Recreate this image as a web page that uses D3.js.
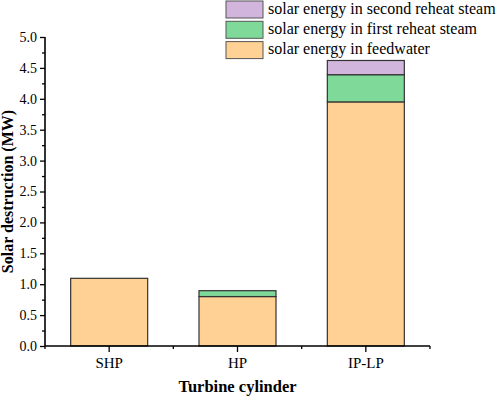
<!DOCTYPE html>
<html>
<head>
<meta charset="utf-8">
<script src="https://cdn.jsdelivr.net/npm/d3@7"></script>
<style>
  body { margin: 0; background: #fff; }
  svg text { font-family: "Liberation Serif", "Times New Roman", serif; fill: #000; }
</style>
</head>
<body>
<div id="root"></div>
<script>
var categories = ['SHP', 'HP', 'IP-LP'];
var seriesNames = ['solar energy in feedwater', 'solar energy in first reheat steam', 'solar energy in second reheat steam'];
var feedwater = [1.095, 0.80, 3.95];
var firstReheat = [0, 0.095, 0.44];
var secondReheat = [0, 0, 0.23];
var yTicks = [0, 0.5, 1.0, 1.5, 2.0, 2.5, 3.0, 3.5, 4.0, 4.5, 5.0];
var colors = ['#FFD194', '#7FDA9A', '#D1B5DD'];

var data = categories.map((c, i) => ({
  name: c,
  feedwater: feedwater[i],
  first: firstReheat[i],
  second: secondReheat[i]
}));
var keys = ['feedwater', 'first', 'second'];

var margin = { top: 37, right: 68, bottom: 51, left: 45 },
  width = 498 - margin.left - margin.right,
  height = 397 - margin.top - margin.bottom;

var svg = d3.select('#root')
  .append('svg')
    .attr('width', 498)
    .attr('height', 397);

var g = svg.append('g')
  .attr('transform', 'translate(' + margin.left + ', ' + margin.top + ')');

var xScale = d3.scaleBand()
  .domain(categories)
  .range([0, width])
  .paddingInner(0.4)
  .paddingOuter(0.2);

var yScale = d3.scaleLinear()
  .domain([0, 5])
  .range([height, 0]);

var stack = d3.stack().keys(keys)(data);

g.selectAll('g.layer')
  .data(stack)
  .enter()
  .append('g')
    .attr('class', 'layer')
    .attr('fill', (d, i) => colors[i])
  .selectAll('rect')
  .data(d => d.filter(p => p[1] - p[0] > 0))
  .enter()
  .append('rect')
    .attr('x', d => xScale(d.data.name))
    .attr('y', d => yScale(d[1]))
    .attr('width', xScale.bandwidth())
    .attr('height', d => yScale(d[0]) - yScale(d[1]))
    .attr('stroke', '#333')
    .attr('stroke-width', 1.2);

// y axis: major ticks with labels, minor ticks between
var yAxisCall = d3.axisLeft(yScale)
  .tickValues(yTicks)
  .tickSize(5)
  .tickPadding(3)
  .tickFormat(d3.format('.1f'));

var yAxis = g.append('g')
  .attr('class', 'y-axis')
  .call(yAxisCall);

g.append('g')
  .call(d3.axisLeft(yScale).tickValues(yTicks.slice(1).map(v => v - 0.25)).tickSize(3).tickFormat(''))
  .select('.domain').remove();

// x axis: category ticks plus boundary ticks
var xAxisCall = d3.axisBottom(xScale)
  .tickSize(6)
  .tickPadding(5);

var xAxis = g.append('g')
  .attr('class', 'x-axis')
  .attr('transform', 'translate(0, ' + height + ')')
  .call(xAxisCall);

var bounds = d3.range(categories.length + 1).map(i => i * width / categories.length);
g.append('g')
  .attr('transform', 'translate(0, ' + height + ')')
  .selectAll('line')
  .data(bounds)
  .enter()
  .append('line')
    .attr('x1', d => d)
    .attr('x2', d => d)
    .attr('y1', 0)
    .attr('y2', 3)
    .attr('stroke', '#000')
    .attr('stroke-width', 1.3);

g.selectAll('.domain').attr('stroke', '#000').attr('stroke-width', 1.6);
g.selectAll('.tick line').attr('stroke', '#000').attr('stroke-width', 1.3);
yAxis.selectAll('.tick text').attr('font-size', '14px');
xAxis.selectAll('.tick text').attr('font-size', '15px');
xAxis.selectAll('.domain').attr('d', 'M0,0H' + width);
yAxis.selectAll('.domain').attr('d', 'M0,' + height + 'V0');

g.append('text')
  .attr('x', width / 2)
  .attr('y', height + 46)
  .attr('font-size', '16.5px')
  .attr('font-weight', 'bold')
  .attr('text-anchor', 'middle')
  .text('Turbine cylinder');

g.append('text')
  .attr('x', -(height / 2))
  .attr('y', -32)
  .attr('font-size', '16px')
  .attr('font-weight', 'bold')
  .attr('text-anchor', 'middle')
  .attr('transform', 'rotate(-90)')
  .text('Solar destruction (MW)');

// legend, top entry is the last series
var legend = svg.append('g')
  .attr('transform', 'translate(226, 1)');

var legendRows = [2, 1, 0];
legendRows.forEach((s, row) => {
  legend.append('rect')
    .attr('x', 0)
    .attr('y', row * 20.3)
    .attr('width', 37)
    .attr('height', 17)
    .attr('fill', colors[s])
    .attr('stroke', '#555')
    .attr('stroke-width', 1);
  legend.append('text')
    .attr('x', 42)
    .attr('y', row * 20.3 + 12.5)
    .attr('font-size', '16px')
    .text(seriesNames[s]);
});
</script>
</body>
</html>
